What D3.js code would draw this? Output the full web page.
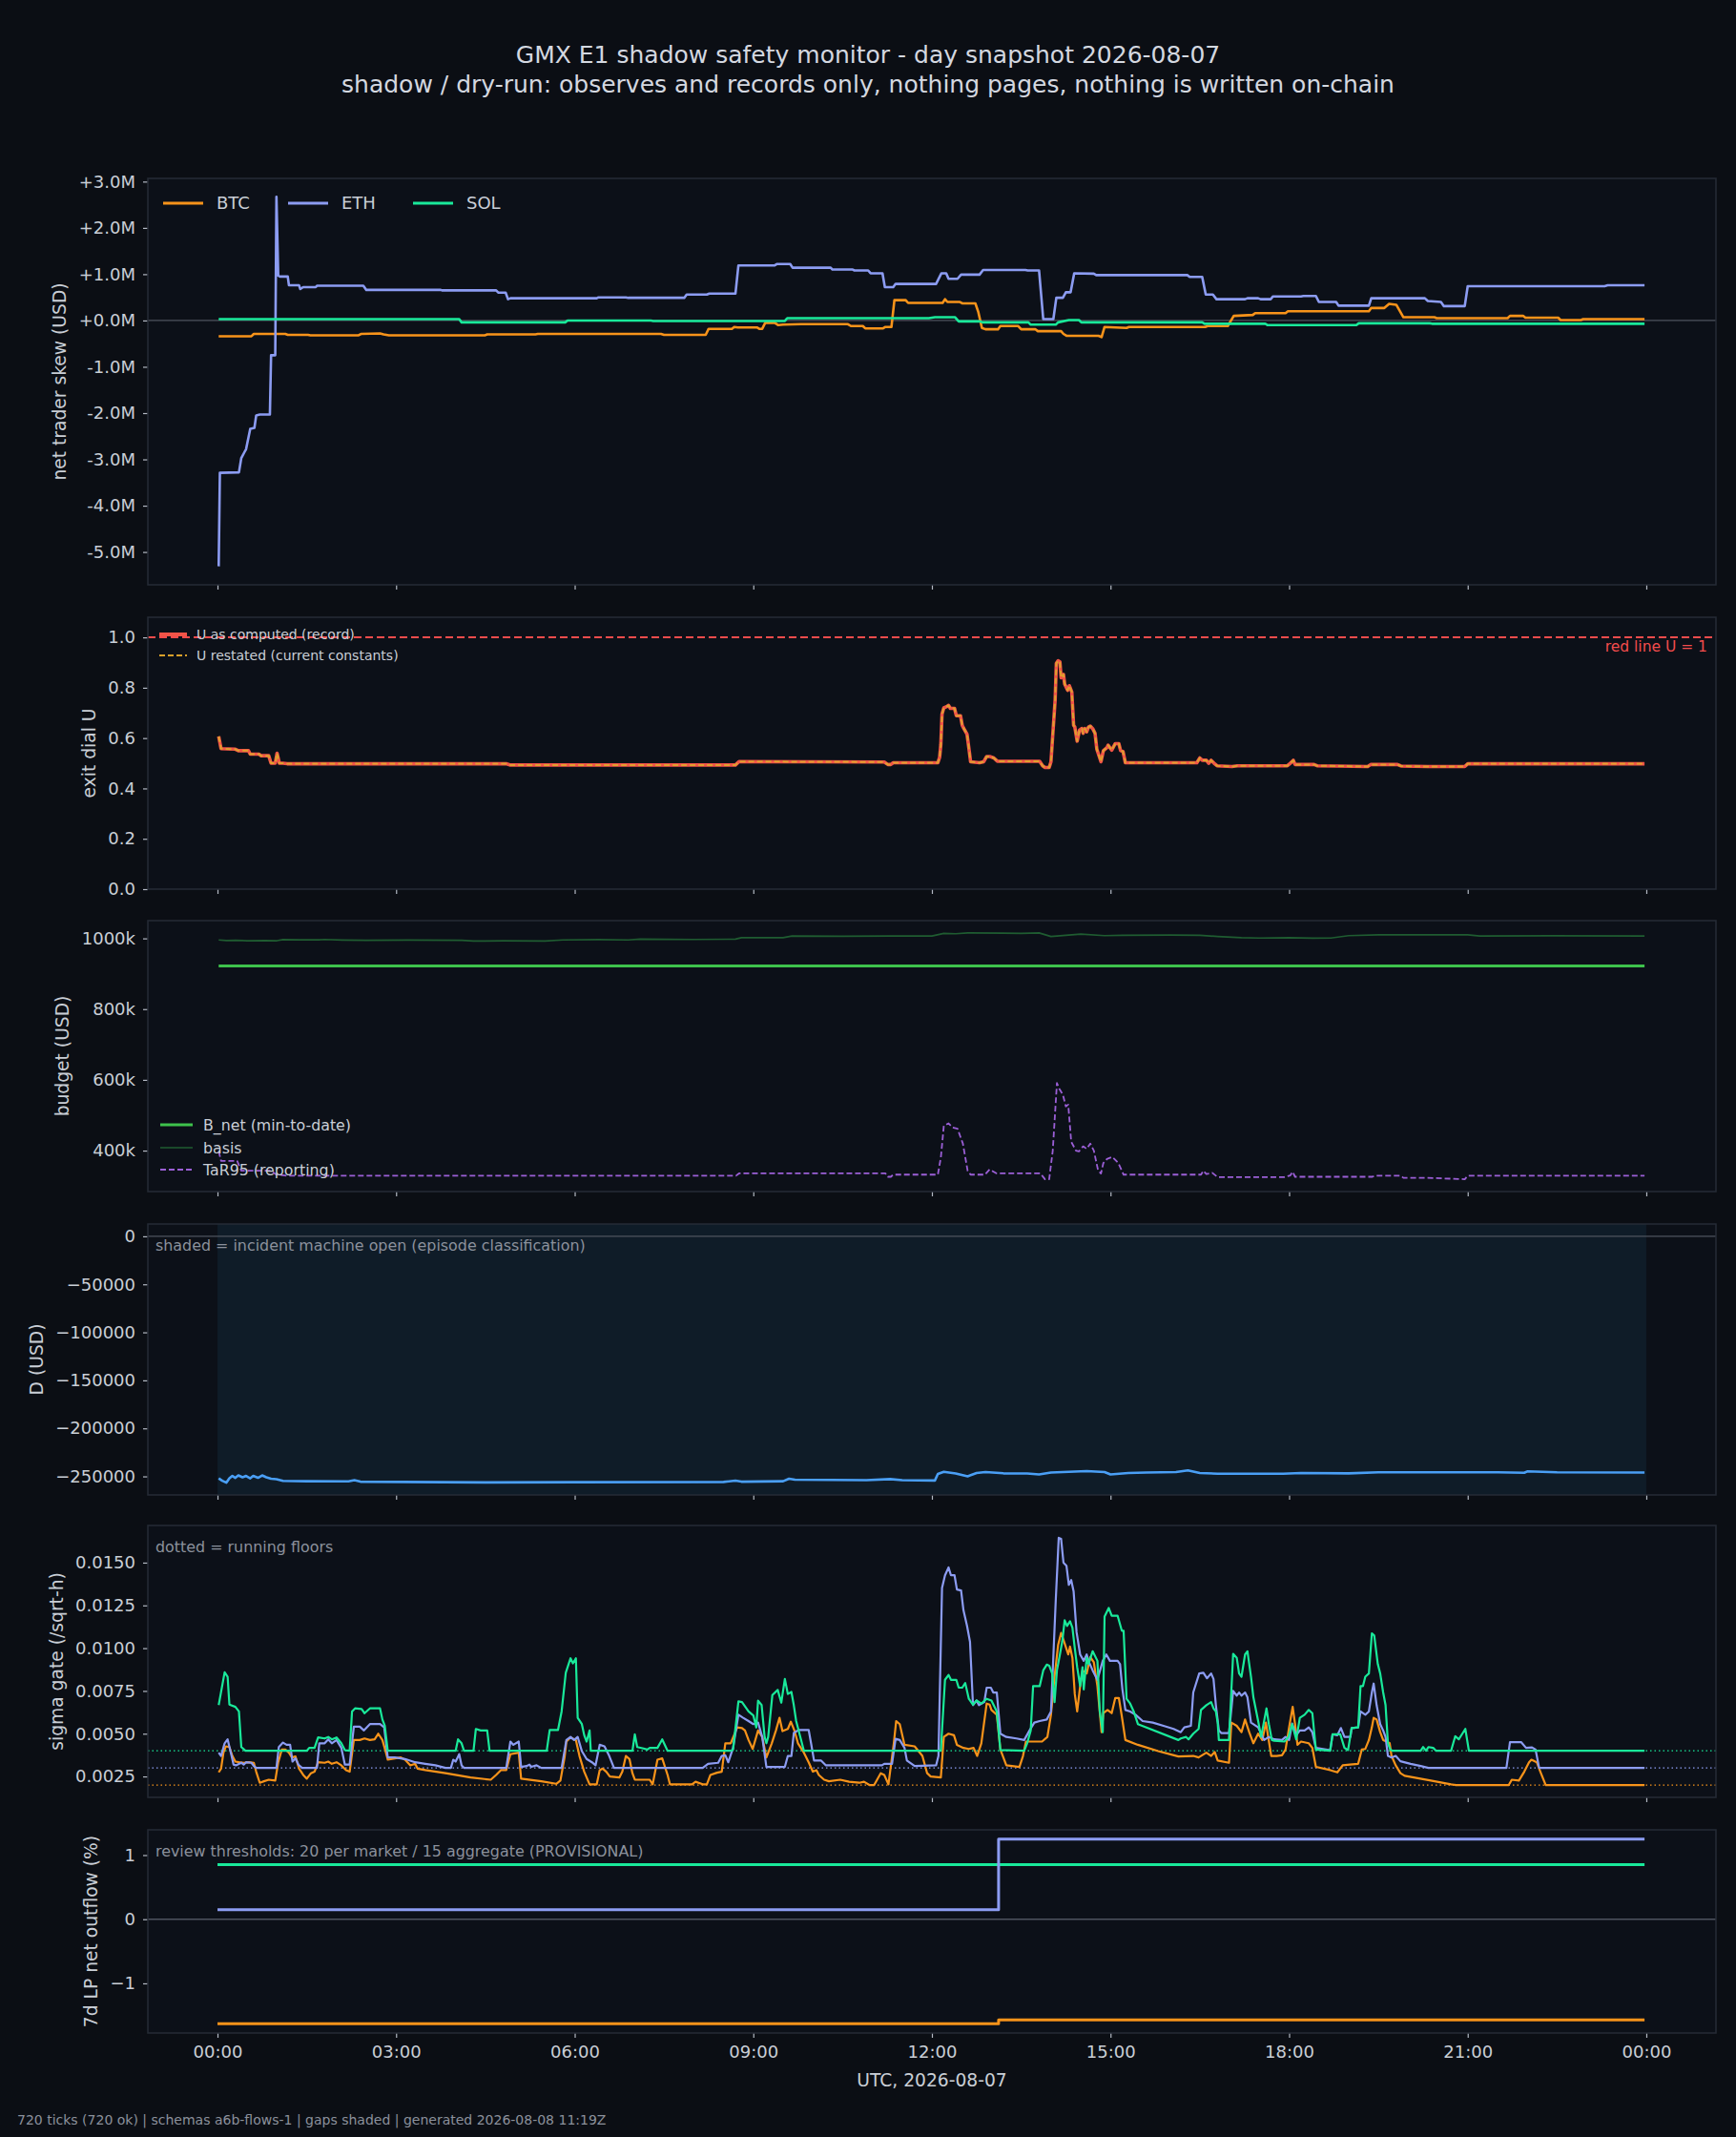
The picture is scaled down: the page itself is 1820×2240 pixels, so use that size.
<!DOCTYPE html>
<html>
<head>
<meta charset="utf-8">
<title>GMX E1 shadow safety monitor</title>
<script src="https://cdn.jsdelivr.net/npm/d3@7"></script>
<style>
    body { margin: 0; background: #0b0e14; }
    svg text { font-family: "DejaVu Sans", sans-serif; }
</style>
</head>
<body>
<script>
// ---- data (hours since 2026-08-07 00:00 UTC, value) ----
var markets = ["BTC", "ETH", "SOL"];
var hourTicks = [0, 3, 6, 9, 12, 15, 18, 21, 24];
var incidentSpan = [0, 24];

// net trader skew, millions of USD
var skewBtc = [[0.02,-0.34],[0.57,-0.34],[0.61,-0.29],[1.14,-0.29],[1.18,-0.31],[1.52,-0.31],[1.56,-0.32],[2.37,-0.32],[2.41,-0.29],[2.73,-0.28],[2.79,-0.3],[2.88,-0.32],[4.49,-0.32],[4.53,-0.3],[5.34,-0.3],[5.38,-0.29],[7.45,-0.29],[7.5,-0.31],[8.2,-0.31],[8.25,-0.18],[8.64,-0.18],[8.68,-0.14],[8.74,-0.15],[9.06,-0.15],[9.1,-0.18],[9.15,-0.18],[9.2,-0.05],[9.36,-0.05],[9.42,-0.1],[9.5,-0.09],[9.8,-0.08],[10.59,-0.08],[10.64,-0.12],[10.84,-0.12],[10.88,-0.17],[11.18,-0.17],[11.22,-0.14],[11.32,-0.14],[11.37,0.44],[11.56,0.44],[11.6,0.38],[12.18,0.38],[12.22,0.46],[12.26,0.4],[12.47,0.4],[12.51,0.37],[12.73,0.37],[12.78,0.18],[12.84,-0.16],[12.9,-0.19],[13.11,-0.19],[13.15,-0.12],[13.45,-0.12],[13.5,-0.19],[13.74,-0.19],[13.78,-0.23],[14.17,-0.23],[14.21,-0.29],[14.26,-0.33],[14.8,-0.33],[14.85,-0.36],[14.9,-0.14],[15.27,-0.16],[15.31,-0.14],[16.59,-0.14],[16.63,-0.12],[16.97,-0.12],[17.07,0.1],[17.39,0.12],[17.43,0.16],[17.94,0.16],[17.98,0.2],[19.34,0.2],[19.38,0.27],[19.6,0.27],[19.68,0.36],[19.8,0.34],[19.92,0.07],[20.44,0.07],[20.48,0.05],[21.67,0.05],[21.71,0.1],[21.93,0.1],[21.97,0.06],[22.52,0.06],[22.56,0.01],[22.9,0.01],[22.94,0.03],[23.97,0.03]];
var skewEth = [[0.02,-5.31],[0.04,-3.29],[0.36,-3.28],[0.4,-2.97],[0.45,-2.85],[0.48,-2.78],[0.55,-2.34],[0.62,-2.32],[0.65,-2.05],[0.71,-2.03],[0.88,-2.03],[0.9,-0.75],[0.97,-0.75],[0.99,2.67],[1.02,0.97],[1.05,0.95],[1.18,0.95],[1.2,0.76],[1.37,0.76],[1.39,0.68],[1.44,0.72],[1.65,0.72],[1.67,0.75],[2.45,0.75],[2.5,0.66],[3.75,0.66],[3.77,0.65],[4.68,0.65],[4.72,0.6],[4.84,0.6],[4.88,0.46],[4.92,0.48],[6.37,0.48],[6.4,0.5],[6.86,0.5],[6.9,0.49],[7.84,0.49],[7.88,0.56],[8.22,0.56],[8.26,0.58],[8.7,0.58],[8.75,1.19],[9.36,1.19],[9.4,1.22],[9.62,1.22],[9.66,1.14],[10.3,1.14],[10.33,1.1],[10.67,1.1],[10.7,1.08],[10.93,1.08],[10.97,1.02],[11.17,1.02],[11.21,0.72],[11.35,0.72],[11.39,0.79],[12.07,0.79],[12.16,1.02],[12.24,1.02],[12.28,0.9],[12.43,0.9],[12.49,0.99],[12.8,0.99],[12.86,1.09],[13.57,1.09],[13.61,1.08],[13.8,1.08],[13.87,0.03],[14.04,0.03],[14.09,0.49],[14.2,0.49],[14.25,0.61],[14.33,0.61],[14.39,1.02],[14.72,1.01],[14.76,0.98],[16.29,0.98],[16.33,0.94],[16.54,0.94],[16.6,0.56],[16.72,0.56],[16.78,0.46],[17.26,0.46],[17.3,0.48],[17.48,0.48],[17.52,0.46],[17.69,0.46],[17.73,0.52],[18.2,0.52],[18.24,0.53],[18.45,0.53],[18.5,0.4],[18.79,0.4],[18.83,0.32],[19.34,0.32],[19.38,0.48],[20.28,0.48],[20.33,0.42],[20.55,0.4],[20.6,0.31],[20.95,0.31],[21.0,0.74],[23.3,0.74],[23.35,0.76],[23.97,0.76]];
var skewSol = [[0.02,0.03],[4.06,0.03],[4.1,-0.04],[5.84,-0.04],[5.88,0.0],[7.28,0.0],[7.32,-0.01],[9.53,-0.01],[9.57,0.05],[11.95,0.05],[12.05,0.07],[12.39,0.07],[12.45,-0.02],[12.81,-0.02],[12.85,-0.04],[13.62,-0.04],[13.66,-0.09],[14.08,-0.09],[14.12,-0.04],[14.3,0.01],[14.47,0.01],[14.51,-0.04],[16.54,-0.04],[16.58,-0.07],[17.6,-0.07],[17.64,-0.1],[19.13,-0.1],[19.17,-0.06],[20.36,-0.06],[20.4,-0.07],[23.97,-0.07]];
var skewTicks = [-5, -4, -3, -2, -1, 0, 1, 2, 3];

// exit dial U
var uRecord = [[0.02,0.607],[0.06,0.558],[0.3,0.556],[0.35,0.55],[0.52,0.55],[0.55,0.536],[0.7,0.536],[0.73,0.53],[0.86,0.53],[0.9,0.5],[0.97,0.5],[1.0,0.54],[1.04,0.5],[1.1,0.5],[1.17,0.498],[4.85,0.498],[4.92,0.493],[8.7,0.493],[8.76,0.507],[11.2,0.505],[11.26,0.495],[11.31,0.495],[11.35,0.502],[12.1,0.502],[12.13,0.524],[12.15,0.575],[12.17,0.695],[12.2,0.72],[12.24,0.724],[12.28,0.73],[12.31,0.718],[12.38,0.718],[12.41,0.689],[12.48,0.689],[12.51,0.65],[12.55,0.632],[12.59,0.615],[12.62,0.562],[12.65,0.506],[12.8,0.502],[12.87,0.506],[12.92,0.527],[12.97,0.527],[13.04,0.521],[13.1,0.508],[13.81,0.508],[13.86,0.49],[13.9,0.483],[13.97,0.483],[14.0,0.506],[14.03,0.612],[14.07,0.752],[14.09,0.897],[14.12,0.907],[14.15,0.903],[14.17,0.84],[14.21,0.853],[14.23,0.815],[14.28,0.79],[14.31,0.808],[14.35,0.783],[14.38,0.651],[14.4,0.644],[14.44,0.588],[14.48,0.632],[14.52,0.638],[14.54,0.619],[14.57,0.638],[14.6,0.625],[14.63,0.644],[14.66,0.648],[14.7,0.638],[14.74,0.619],[14.77,0.556],[14.84,0.506],[14.88,0.55],[14.94,0.562],[14.96,0.572],[15.02,0.552],[15.08,0.578],[15.14,0.578],[15.17,0.55],[15.21,0.547],[15.25,0.502],[16.45,0.502],[16.5,0.521],[16.54,0.512],[16.61,0.512],[16.65,0.5],[16.69,0.512],[16.74,0.5],[16.79,0.49],[17.04,0.487],[17.13,0.49],[17.97,0.49],[18.02,0.5],[18.07,0.512],[18.1,0.495],[18.42,0.495],[18.47,0.49],[18.81,0.489],[19.32,0.487],[19.37,0.495],[19.82,0.495],[19.88,0.489],[20.33,0.487],[20.95,0.487],[21.0,0.498],[23.97,0.498]];
var uRestated = uRecord; // restated values coincide with the record on this day
var uRedLine = 1;
var dialTicks = [0, 0.2, 0.4, 0.6, 0.8, 1.0];

// budget, thousands of USD
var budgetNet = [[0.02,922],[23.97,922]];
var budgetBasis = [[0.02,995.6],[0.15,993.8],[0.3,994.5],[0.5,993.4],[0.8,994],[1.0,993.5],[1.1,996.7],[1.4,995.8],[1.7,996],[1.8,997],[2.1,995.5],[2.5,994.5],[3.2,995],[4.1,994.5],[4.3,992.3],[4.8,993],[5.5,992.3],[5.8,995.6],[6.4,996.5],[6.9,995.6],[7.1,997.8],[8.0,997],[8.7,997.8],[8.8,1002.2],[9.5,1002.2],[9.65,1006.6],[10.5,1005.8],[11.3,1006.8],[12.0,1006.6],[12.2,1014.3],[12.4,1013.2],[12.6,1015.4],[13.2,1015],[13.5,1014],[13.8,1015.4],[14.0,1005.5],[14.2,1008],[14.5,1012],[14.9,1007.7],[15.2,1008.8],[16.0,1009.5],[16.5,1008.8],[16.8,1005.5],[17.2,1002],[17.5,1001],[18.0,1002],[18.4,1000.5],[18.7,1001],[19.0,1007.7],[19.5,1009.9],[20.3,1010.3],[21.0,1009.9],[21.2,1006.6],[22.4,1007.2],[23.97,1006.6]];
var tar95 = [[0.02,398],[0.06,371],[0.33,371],[0.4,343],[0.89,343],[0.99,332],[1.17,329],[8.71,329],[8.76,335.6],[11.22,335.6],[11.26,326],[11.31,326],[11.35,332],[12.1,332],[12.15,380],[12.2,470],[12.28,477],[12.35,465],[12.43,462],[12.52,420],[12.6,343],[12.65,332],[12.89,332],[12.97,347],[13.08,336],[13.82,336],[13.9,319],[13.97,319],[14.03,400],[14.1,591],[14.14,575],[14.2,558],[14.25,525],[14.29,530],[14.34,425],[14.42,400],[14.47,398],[14.54,412],[14.6,405],[14.66,420],[14.72,400],[14.79,345],[14.84,335],[14.88,365],[14.94,376],[15.03,382],[15.13,365],[15.22,332],[16.52,332],[16.56,343],[16.61,334],[16.71,337],[16.8,325],[17.92,325],[18.02,330],[18.06,340],[18.1,326],[19.4,326],[19.45,329],[19.87,329],[19.92,323],[20.33,323],[20.95,319],[21.0,329],[23.97,329]];
var budgetTicks = [400, 600, 800, 1000];

// D, USD
var drawdown = [[0.02,-252000],[0.08,-254500],[0.15,-256500],[0.2,-252000],[0.25,-249500],[0.3,-251500],[0.35,-249000],[0.42,-251000],[0.48,-249500],[0.55,-252000],[0.6,-249500],[0.68,-251500],[0.75,-249000],[0.82,-251000],[0.9,-252500],[0.99,-253000],[1.1,-254700],[1.5,-255000],[2.2,-255200],[2.3,-254000],[2.4,-255500],[3.8,-256000],[4.5,-256300],[6.0,-256000],[8.5,-255800],[8.7,-254500],[8.8,-255500],[9.5,-255000],[9.6,-252400],[9.7,-253500],[10.9,-254000],[11.3,-252800],[11.5,-254000],[12.05,-254300],[12.1,-247500],[12.2,-245300],[12.4,-247000],[12.6,-250000],[12.75,-246500],[12.9,-245500],[13.2,-246800],[13.6,-247000],[13.8,-248000],[14.0,-246000],[14.3,-245300],[14.6,-244500],[14.9,-245500],[15.0,-248000],[15.3,-246500],[15.6,-246000],[16.1,-245500],[16.3,-243700],[16.5,-246500],[16.8,-247200],[17.9,-247200],[18.2,-246500],[19.0,-246800],[19.5,-245700],[21.5,-245700],[21.95,-246200],[22.0,-244800],[22.5,-245800],[23.97,-246000]];
var dTicks = [-250000, -200000, -150000, -100000, -50000, 0];

// sigma gate, per sqrt(hour)
var sigmaBtc = [[0.02,0.00274],[0.06,0.00296],[0.1,0.00389],[0.14,0.00426],[0.2,0.00422],[0.25,0.0037],[0.3,0.00337],[0.36,0.00333],[0.44,0.0033],[0.53,0.00333],[0.61,0.0033],[0.65,0.00278],[0.71,0.00213],[0.78,0.00222],[0.86,0.00231],[0.97,0.00226],[1.02,0.00333],[1.08,0.00407],[1.14,0.00407],[1.2,0.00389],[1.25,0.00361],[1.31,0.00367],[1.37,0.00296],[1.44,0.00259],[1.5,0.00237],[1.57,0.00269],[1.63,0.00278],[1.69,0.00333],[1.8,0.0033],[1.86,0.00337],[1.92,0.00324],[2.0,0.00333],[2.08,0.00315],[2.16,0.00287],[2.22,0.00278],[2.29,0.00463],[2.39,0.00463],[2.47,0.00472],[2.56,0.00463],[2.64,0.00467],[2.7,0.005],[2.77,0.00463],[2.83,0.00389],[2.86,0.00348],[2.98,0.00356],[3.08,0.00361],[3.15,0.00348],[3.24,0.00315],[3.32,0.00324],[3.36,0.00296],[3.49,0.00287],[3.83,0.00269],[4.25,0.00244],[4.59,0.00231],[4.68,0.00259],[4.76,0.00287],[4.85,0.00287],[4.92,0.0038],[5.06,0.00389],[5.1,0.00237],[5.44,0.00222],[5.69,0.00207],[5.76,0.00226],[5.83,0.00361],[5.86,0.00454],[5.93,0.00478],[6.02,0.00463],[6.08,0.0037],[6.16,0.00278],[6.25,0.00204],[6.37,0.00204],[6.42,0.00287],[6.47,0.00296],[6.53,0.00278],[6.59,0.0025],[6.75,0.00244],[6.8,0.00278],[6.86,0.0037],[6.92,0.00352],[6.97,0.00269],[7.01,0.00231],[7.26,0.00231],[7.31,0.00204],[7.39,0.00348],[7.47,0.00356],[7.56,0.00259],[7.6,0.00204],[7.97,0.00204],[8.03,0.00219],[8.15,0.00204],[8.22,0.00204],[8.28,0.00259],[8.39,0.00272],[8.47,0.00278],[8.53,0.00444],[8.62,0.00444],[8.73,0.00537],[8.81,0.00533],[8.86,0.00519],[8.92,0.00463],[8.99,0.00411],[9.08,0.00519],[9.15,0.00481],[9.22,0.00361],[9.31,0.00444],[9.38,0.00519],[9.44,0.00593],[9.49,0.00515],[9.58,0.00528],[9.63,0.0057],[9.69,0.00519],[9.75,0.00444],[9.85,0.00389],[9.93,0.00333],[10.0,0.00278],[10.06,0.00287],[10.1,0.00259],[10.19,0.00231],[10.27,0.00222],[10.46,0.00231],[10.61,0.00219],[10.78,0.00213],[10.86,0.00219],[10.95,0.002],[11.03,0.002],[11.14,0.00269],[11.2,0.00259],[11.27,0.00204],[11.36,0.00444],[11.4,0.00574],[11.46,0.00556],[11.54,0.00435],[11.71,0.00426],[11.84,0.0037],[11.92,0.00269],[11.98,0.0025],[12.15,0.00244],[12.2,0.00481],[12.28,0.005],[12.37,0.00491],[12.42,0.00435],[12.53,0.00417],[12.62,0.00411],[12.7,0.00417],[12.76,0.0037],[12.83,0.00444],[12.92,0.00676],[12.97,0.0067],[13.0,0.00639],[13.09,0.00611],[13.15,0.00407],[13.25,0.00315],[13.47,0.00306],[13.53,0.0037],[13.58,0.00454],[13.85,0.00454],[13.94,0.00481],[14.0,0.00611],[14.06,0.00833],[14.12,0.01019],[14.17,0.01089],[14.23,0.01028],[14.29,0.00963],[14.32,0.01009],[14.36,0.00944],[14.4,0.00732],[14.44,0.0063],[14.49,0.00778],[14.53,0.0087],[14.6,0.00852],[14.66,0.00948],[14.72,0.00917],[14.78,0.00778],[14.85,0.00509],[14.88,0.0062],[14.95,0.00639],[15.02,0.0062],[15.08,0.00709],[15.14,0.00709],[15.19,0.00602],[15.25,0.00463],[15.46,0.00435],[15.8,0.00398],[16.14,0.00367],[16.39,0.0037],[16.48,0.00361],[16.61,0.00389],[16.69,0.0037],[16.75,0.00393],[16.8,0.00343],[16.99,0.0033],[17.03,0.00565],[17.12,0.00546],[17.2,0.00509],[17.26,0.00583],[17.33,0.00509],[17.4,0.00444],[17.48,0.005],[17.55,0.00463],[17.61,0.00565],[17.7,0.0037],[17.79,0.0037],[17.88,0.00374],[17.94,0.00407],[18.0,0.00537],[18.06,0.00657],[18.1,0.00556],[18.14,0.00435],[18.2,0.00454],[18.33,0.00444],[18.39,0.00417],[18.45,0.00306],[18.69,0.00287],[18.81,0.00274],[18.9,0.00315],[19.02,0.00319],[19.16,0.00324],[19.22,0.00407],[19.28,0.00411],[19.34,0.00463],[19.39,0.00537],[19.42,0.00593],[19.47,0.00583],[19.53,0.00509],[19.58,0.00463],[19.64,0.00454],[19.69,0.00444],[19.72,0.0037],[19.79,0.00315],[19.87,0.00269],[19.94,0.00254],[20.38,0.00226],[20.72,0.00204],[20.8,0.002],[21.69,0.002],[21.74,0.00231],[21.86,0.00226],[21.95,0.00278],[22.03,0.00333],[22.07,0.00348],[22.16,0.00333],[22.22,0.00278],[22.31,0.002],[23.97,0.002]];
var sigmaEth = [[0.02,0.00389],[0.06,0.0037],[0.12,0.00444],[0.17,0.00467],[0.23,0.0038],[0.27,0.00319],[0.31,0.00315],[0.4,0.0033],[0.44,0.00319],[0.48,0.00333],[0.57,0.0033],[0.61,0.00311],[0.65,0.003],[0.99,0.003],[1.03,0.00422],[1.1,0.00448],[1.16,0.00435],[1.22,0.00435],[1.26,0.00337],[1.31,0.00356],[1.36,0.00319],[1.42,0.003],[1.67,0.003],[1.71,0.00444],[1.8,0.00444],[1.86,0.00467],[1.92,0.00444],[2.0,0.00463],[2.08,0.00417],[2.14,0.00319],[2.22,0.00319],[2.29,0.00541],[2.39,0.00541],[2.46,0.00519],[2.56,0.00556],[2.73,0.00556],[2.8,0.00537],[2.86,0.00361],[2.98,0.00361],[3.15,0.00352],[3.32,0.00333],[3.49,0.00324],[3.66,0.00315],[3.83,0.003],[3.92,0.003],[3.96,0.00348],[4.0,0.00337],[4.06,0.0038],[4.1,0.00315],[4.14,0.003],[4.85,0.003],[4.92,0.00454],[4.97,0.00435],[5.06,0.00454],[5.1,0.00306],[5.19,0.00311],[5.24,0.00319],[5.27,0.00306],[5.36,0.00315],[5.44,0.003],[5.78,0.003],[5.86,0.00463],[5.93,0.00481],[5.99,0.00463],[6.05,0.00481],[6.12,0.00398],[6.2,0.00352],[6.29,0.00333],[6.35,0.00315],[6.42,0.00435],[6.5,0.00426],[6.58,0.0037],[6.66,0.003],[8.15,0.003],[8.24,0.00324],[8.41,0.0033],[8.47,0.0037],[8.53,0.00374],[8.58,0.00333],[8.66,0.00417],[8.75,0.00611],[8.83,0.00593],[8.92,0.00574],[9.0,0.00556],[9.08,0.00565],[9.15,0.00481],[9.22,0.00306],[9.53,0.00306],[9.58,0.0037],[9.64,0.0037],[9.68,0.00504],[9.76,0.00522],[9.93,0.00522],[9.97,0.00444],[10.02,0.00343],[10.14,0.00343],[10.22,0.00315],[11.16,0.00315],[11.2,0.00324],[11.33,0.00324],[11.39,0.0047],[11.46,0.00463],[11.54,0.00417],[11.58,0.00343],[11.71,0.00311],[12.07,0.00315],[12.11,0.0037],[12.17,0.01352],[12.22,0.01426],[12.28,0.01472],[12.32,0.01426],[12.38,0.01426],[12.42,0.01343],[12.49,0.01337],[12.53,0.01222],[12.59,0.0113],[12.64,0.01037],[12.69,0.00667],[12.75,0.00694],[12.79,0.00667],[12.88,0.00685],[12.92,0.00769],[12.99,0.00769],[13.03,0.00741],[13.09,0.00741],[13.15,0.005],[13.25,0.00481],[13.42,0.00472],[13.55,0.00463],[13.64,0.00519],[13.72,0.00565],[13.81,0.00574],[13.93,0.00583],[14.0,0.0063],[14.03,0.0087],[14.08,0.01278],[14.13,0.01645],[14.17,0.01639],[14.21,0.015],[14.26,0.01482],[14.3,0.0137],[14.34,0.01398],[14.38,0.01333],[14.43,0.01093],[14.49,0.00963],[14.55,0.00926],[14.6,0.00963],[14.63,0.00926],[14.7,0.0087],[14.78,0.00815],[14.87,0.00926],[14.93,0.00963],[14.99,0.00926],[15.12,0.00926],[15.16,0.00907],[15.2,0.00759],[15.25,0.00639],[15.33,0.0063],[15.42,0.00611],[15.54,0.00574],[15.71,0.00565],[15.89,0.00546],[16.06,0.00528],[16.18,0.00509],[16.24,0.00537],[16.35,0.00546],[16.39,0.00741],[16.49,0.00852],[16.56,0.00856],[16.62,0.00824],[16.69,0.00852],[16.73,0.0082],[16.77,0.00667],[16.82,0.00519],[16.86,0.00504],[16.99,0.00504],[17.06,0.0075],[17.12,0.00722],[17.16,0.00741],[17.2,0.00722],[17.26,0.00741],[17.3,0.00713],[17.36,0.00565],[17.48,0.00537],[17.58,0.00463],[17.66,0.00481],[17.75,0.00467],[17.88,0.00463],[17.94,0.00481],[18.0,0.00463],[18.05,0.00559],[18.12,0.00491],[18.18,0.00519],[18.26,0.00519],[18.33,0.00537],[18.39,0.00509],[18.45,0.00417],[18.69,0.00404],[18.73,0.00496],[18.81,0.00491],[18.87,0.00533],[18.93,0.00481],[19.03,0.00481],[19.05,0.00533],[19.16,0.00537],[19.2,0.0063],[19.28,0.00611],[19.34,0.0063],[19.39,0.00741],[19.42,0.00793],[19.47,0.00667],[19.53,0.00556],[19.58,0.00519],[19.62,0.00481],[19.66,0.0037],[19.72,0.00361],[19.79,0.0037],[19.87,0.00339],[20.04,0.00324],[20.21,0.00311],[20.34,0.003],[21.65,0.003],[21.71,0.0045],[21.9,0.0045],[21.98,0.00417],[22.08,0.0042],[22.14,0.00407],[22.2,0.003],[23.97,0.003]];
var sigmaSol = [[0.02,0.00667],[0.12,0.00859],[0.17,0.00833],[0.2,0.0067],[0.3,0.00657],[0.36,0.0063],[0.4,0.00422],[0.47,0.004],[1.5,0.004],[1.54,0.00417],[1.63,0.00417],[1.69,0.00478],[1.8,0.00472],[1.86,0.00481],[1.92,0.00467],[2.0,0.00478],[2.08,0.00444],[2.14,0.00404],[2.22,0.004],[2.26,0.0063],[2.31,0.00648],[2.42,0.00644],[2.47,0.0062],[2.56,0.00648],[2.73,0.00648],[2.77,0.00583],[2.81,0.00546],[2.86,0.004],[4.0,0.004],[4.04,0.00467],[4.1,0.00444],[4.14,0.004],[4.3,0.004],[4.34,0.00528],[4.42,0.00519],[4.53,0.00519],[4.57,0.004],[5.53,0.004],[5.58,0.00522],[5.72,0.00522],[5.78,0.0063],[5.85,0.00856],[5.93,0.00941],[5.97,0.00911],[6.02,0.00941],[6.05,0.00593],[6.12,0.00556],[6.16,0.00491],[6.2,0.00454],[6.25,0.00519],[6.27,0.004],[6.97,0.004],[7.01,0.00496],[7.05,0.00422],[7.14,0.00415],[7.22,0.00407],[7.26,0.00417],[7.39,0.00417],[7.47,0.00467],[7.56,0.004],[8.62,0.004],[8.66,0.00407],[8.75,0.00689],[8.81,0.00685],[8.92,0.0063],[9.0,0.00607],[9.05,0.00537],[9.08,0.00693],[9.14,0.00667],[9.19,0.00481],[9.22,0.00444],[9.25,0.00481],[9.32,0.00726],[9.41,0.00756],[9.47,0.00681],[9.53,0.0082],[9.58,0.00732],[9.64,0.00744],[9.68,0.00667],[9.72,0.00574],[9.85,0.004],[12.15,0.004],[12.22,0.00815],[12.28,0.00843],[12.32,0.00815],[12.41,0.00815],[12.45,0.00769],[12.51,0.00769],[12.56,0.00796],[12.62,0.00704],[12.69,0.0067],[12.75,0.00694],[12.83,0.00676],[12.92,0.00704],[13.0,0.00694],[13.09,0.0063],[13.15,0.00404],[13.55,0.004],[13.6,0.00444],[13.66,0.00519],[13.7,0.00778],[13.81,0.00778],[13.87,0.0087],[13.93,0.00904],[13.97,0.00898],[14.02,0.00852],[14.06,0.00685],[14.1,0.0087],[14.15,0.00963],[14.19,0.01041],[14.23,0.01163],[14.27,0.0113],[14.32,0.01157],[14.36,0.0112],[14.4,0.01],[14.44,0.00889],[14.49,0.00778],[14.53,0.00889],[14.55,0.00759],[14.6,0.00944],[14.63,0.00907],[14.7,0.00982],[14.78,0.00926],[14.82,0.0063],[14.87,0.00509],[14.9,0.01185],[14.97,0.01235],[15.02,0.01189],[15.12,0.01189],[15.19,0.01102],[15.22,0.01102],[15.27,0.00704],[15.33,0.00676],[15.39,0.0063],[15.46,0.00556],[16.14,0.00463],[16.18,0.00472],[16.27,0.00481],[16.31,0.00467],[16.39,0.005],[16.48,0.00528],[16.52,0.00639],[16.61,0.00667],[16.69,0.00685],[16.73,0.00648],[16.77,0.0063],[16.8,0.00565],[16.82,0.00463],[16.99,0.00463],[17.06,0.00967],[17.12,0.00944],[17.16,0.00852],[17.2,0.00833],[17.26,0.00963],[17.3,0.00982],[17.36,0.00833],[17.4,0.00713],[17.48,0.00574],[17.53,0.00481],[17.62,0.00648],[17.66,0.00556],[17.71,0.00463],[17.75,0.00459],[17.92,0.00454],[17.99,0.00481],[18.05,0.00556],[18.12,0.00467],[18.18,0.00593],[18.26,0.00611],[18.33,0.00639],[18.39,0.0062],[18.45,0.00407],[18.69,0.004],[18.73,0.00496],[18.86,0.00496],[18.93,0.00417],[18.99,0.00404],[19.05,0.00533],[19.16,0.00537],[19.2,0.00778],[19.24,0.00778],[19.28,0.00833],[19.34,0.00852],[19.39,0.01087],[19.43,0.01074],[19.49,0.00907],[19.53,0.00852],[19.58,0.00741],[19.62,0.00667],[19.66,0.00444],[19.7,0.00407],[19.74,0.004],[20.21,0.004],[20.25,0.00422],[20.3,0.004],[20.34,0.00422],[20.42,0.00417],[20.47,0.004],[20.72,0.004],[20.79,0.00485],[20.85,0.00467],[20.91,0.005],[20.96,0.00528],[21.02,0.004],[23.97,0.004]];
var sigmaFloors = [0.002, 0.003, 0.004]; // BTC, ETH, SOL
var sigmaTicks = [0.0025, 0.005, 0.0075, 0.01, 0.0125, 0.015];

// 7d LP net outflow, percent (step series)
var lpBtc = [[0,-1.63],[13.12,-1.57],[23.97,-1.57]];
var lpEth = [[0,0.15],[13.12,1.25],[23.97,1.25]];
var lpSol = [[0,0.85],[23.97,0.85]];
var lpTicks = [-1, 0, 1];

function init() {
    var w = 1820;
    var h = 2240;
    var left = 155, right = 1799;
    var dayStart = Date.UTC(2026, 7, 7);
    var colors = { BTC: "#f7931a", ETH: "#8c9cf2", SOL: "#19e99a" };
    var tickColor = "#c9ced6";
    var noteColor = "#8b919c";

    function at(hr) { return new Date(dayStart + hr * 3600000); }
    function padded(vals) {
        var ext = d3.extent(vals);
        var p = (ext[1] - ext[0]) * 0.05;
        return [ext[0] - p, ext[1] + p];
    }
    function values(list) { return [].concat.apply([], list.map(function (s) { return s.map(function (d) { return d[1]; }); })); }

    var x = d3.scaleUtc().domain([at(-1.17), at(25.17)]).range([left, right]);

    var svg = d3.select("body").append("svg")
        .attr("width", w)
        .attr("height", h)
        .style("background", "#0b0e14");
    var defs = svg.append("defs");

    // title
    svg.append("text").attr("x", 910).attr("y", 66).attr("text-anchor", "middle")
        .attr("font-size", 25).attr("fill", "#d4d8e0")
        .text("GMX E1 shadow safety monitor - day snapshot 2026-08-07");
    svg.append("text").attr("x", 910).attr("y", 97).attr("text-anchor", "middle")
        .attr("font-size", 25).attr("fill", "#d4d8e0")
        .text("shadow / dry-run: observes and records only, nothing pages, nothing is written on-chain");

    // builds one subplot: background, clip, axes, y label
    function panel(id, top, bottom, domain, ticks, fmt, label, showX) {
        var g = svg.append("g");
        var y = d3.scaleLinear().domain(domain).range([bottom, top]);
        g.append("rect").attr("x", left).attr("y", top).attr("width", right - left).attr("height", bottom - top)
            .attr("fill", "#0c1018");
        defs.append("clipPath").attr("id", "clip-" + id).append("rect")
            .attr("x", left).attr("y", top).attr("width", right - left).attr("height", bottom - top);
        var plot = g.append("g").attr("clip-path", "url(#clip-" + id + ")");

        var xa = g.append("g").attr("transform", "translate(0," + bottom + ")")
            .call(d3.axisBottom(x).tickValues(hourTicks.map(at)).tickSize(5).tickPadding(8)
                .tickFormat(showX ? d3.utcFormat("%H:%M") : ""));
        var ya = g.append("g").attr("transform", "translate(" + left + ",0)")
            .call(d3.axisLeft(y).tickValues(ticks).tickSize(5).tickPadding(8).tickFormat(fmt));
        [xa, ya].forEach(function (a) {
            a.select(".domain").remove();
            a.selectAll(".tick line").attr("stroke", "#b4bac4").attr("stroke-width", 1.2);
            a.selectAll(".tick text").attr("fill", tickColor).attr("font-size", 18)
                .attr("font-family", "DejaVu Sans");
        });

        g.append("rect").attr("x", left).attr("y", top).attr("width", right - left).attr("height", bottom - top)
            .attr("fill", "none").attr("stroke", "#262b36").attr("stroke-width", 1.5);

        // y label placed left of the widest tick label
        var minX = d3.min(ya.selectAll(".tick text").nodes(), function (n) { return n.getBBox().x; }) + left;
        var lx = minX - 9 - 18.7 * 0.236;
        var cy = (top + bottom) / 2;
        svg.append("text").attr("transform", "translate(" + lx + "," + cy + ") rotate(-90)")
            .attr("text-anchor", "middle").attr("font-size", 18.7).attr("fill", tickColor).text(label);

        return { g: g, plot: plot, y: y, top: top, bottom: bottom };
    }

    function drawLine(p, data, color, width, dash, curve) {
        var line = d3.line()
            .x(function (d) { return x(at(d[0])); })
            .y(function (d) { return p.y(d[1]); })
            .curve(curve || d3.curveLinear);
        p.plot.append("path").datum(data)
            .attr("d", line)
            .attr("fill", "none")
            .attr("stroke", color)
            .attr("stroke-width", width)
            .attr("stroke-linejoin", "round")
            .attr("stroke-dasharray", dash || null);
    }
    function hline(p, v, color, width, dash) {
        p.plot.append("line").attr("x1", left).attr("x2", right)
            .attr("y1", p.y(v)).attr("y2", p.y(v))
            .attr("stroke", color).attr("stroke-width", width).attr("stroke-dasharray", dash || null);
    }
    function legend(p, items, rows, size, len, textGap) {
        items.forEach(function (it, i) {
            var yy = rows[i].y, xx = rows[i].x;
            p.g.append("line").attr("x1", xx).attr("x2", xx + len).attr("y1", yy).attr("y2", yy)
                .attr("stroke", it.color).attr("stroke-width", it.width).attr("stroke-dasharray", it.dash || null);
            p.g.append("text").attr("x", xx + len + textGap).attr("y", yy).attr("dy", "0.36em")
                .attr("font-size", size).attr("fill", tickColor).text(it.label);
        });
    }
    function note(p, txt) {
        p.g.append("text").attr("x", left + 8).attr("y", p.top + 28)
            .attr("font-size", 15.9).attr("fill", noteColor).text(txt);
    }

    // ---- panel 1: net trader skew ----
    var skewFmt = function (v) { return (v >= 0 ? "+" : "-") + Math.abs(v).toFixed(1) + "M"; };
    var p1 = panel("skew", 187, 613, padded(values([skewBtc, skewEth, skewSol, [[0, 0]]])),
        skewTicks, skewFmt, "net trader skew (USD)", false);
    hline(p1, 0, "#4e535e", 1.3);
    drawLine(p1, skewBtc, colors.BTC, 2.6);
    drawLine(p1, skewEth, colors.ETH, 2.6);
    drawLine(p1, skewSol, colors.SOL, 2.6);
    legend(p1, markets.map(function (m) { return { label: m, color: colors[m], width: 3 }; }),
        [{ x: 171, y: 213 }, { x: 302, y: 213 }, { x: 433, y: 213 }], 18, 42, 14);

    // ---- panel 2: exit dial U ----
    var p2 = panel("dial", 647, 932, [0, 1.08], dialTicks, d3.format(".1f"), "exit dial U", false);
    hline(p2, uRedLine, "#f24c4c", 2, "8,4");
    drawLine(p2, uRecord, "#f25447", 3.6);
    drawLine(p2, uRestated, "#e0a02e", 2, "6,3");
    p2.g.append("text").attr("x", 1790).attr("y", p2.y(uRedLine) + 14.5).attr("text-anchor", "end")
        .attr("font-size", 15.5).attr("fill", "#f24c4c").text("red line U = 1");
    legend(p2, [
        { label: "U as computed (record)", color: "#f25447", width: 4 },
        { label: "U restated (current constants)", color: "#d9a02a", width: 2, dash: "6,3" }
    ], [{ x: 167, y: 665 }, { x: 167, y: 687 }], 14, 29, 10);

    // ---- panel 3: budget ----
    var p3 = panel("budget", 965, 1249, padded(values([budgetNet, budgetBasis, tar95])),
        budgetTicks, function (v) { return v + "k"; }, "budget (USD)", false);
    drawLine(p3, budgetBasis, "#1f5c31", 1.7);
    drawLine(p3, budgetNet, "#3ec24c", 3);
    drawLine(p3, tar95, "#9b5fd6", 1.8, "6,3");
    legend(p3, [
        { label: "B_net (min-to-date)", color: "#3ec24c", width: 3 },
        { label: "basis", color: "#1f5c31", width: 1.7 },
        { label: "TaR95 (reporting)", color: "#9b5fd6", width: 1.8, dash: "6,3" }
    ], [{ x: 168, y: 1179 }, { x: 168, y: 1203 }, { x: 168, y: 1226 }], 15.8, 34, 11);

    // ---- panel 4: D ----
    var p4 = panel("dd", 1283, 1567, padded(values([drawdown, [[0, 0]]])),
        dTicks, d3.format("d"), "D (USD)", false);
    p4.plot.append("rect")
        .attr("x", x(at(incidentSpan[0]))).attr("width", x(at(incidentSpan[1])) - x(at(incidentSpan[0])))
        .attr("y", p4.top).attr("height", p4.bottom - p4.top)
        .attr("fill", "#10202e").attr("opacity", 0.75);
    hline(p4, 0, "#4e535e", 1.3);
    drawLine(p4, drawdown, "#4a9ff5", 2.6);
    note(p4, "shaded = incident machine open (episode classification)");

    // ---- panel 5: sigma gate ----
    var p5 = panel("sigma", 1599, 1884, padded(values([sigmaBtc, sigmaEth, sigmaSol])),
        sigmaTicks, d3.format(".4f"), "sigma gate (/sqrt-h)", false);
    markets.forEach(function (m, i) {
        hline(p5, sigmaFloors[i], colors[m], 1.2, "1.5,3");
    });
    drawLine(p5, sigmaBtc, colors.BTC, 2.2);
    drawLine(p5, sigmaEth, colors.ETH, 2.2);
    drawLine(p5, sigmaSol, colors.SOL, 2.2);
    note(p5, "dotted = running floors");

    // ---- panel 6: LP net outflow ----
    var p6 = panel("lp", 1918, 2131, padded(values([lpBtc, lpEth, lpSol])),
        lpTicks, d3.format("d"), "7d LP net outflow (%)", true);
    hline(p6, 0, "#4e535e", 1.3);
    drawLine(p6, lpSol, colors.SOL, 3, null, d3.curveStepAfter);
    drawLine(p6, lpEth, colors.ETH, 3, null, d3.curveStepAfter);
    drawLine(p6, lpBtc, colors.BTC, 3, null, d3.curveStepAfter);
    note(p6, "review thresholds: 20 per market / 15 aggregate (PROVISIONAL)");

    // x label and footer
    svg.append("text").attr("x", (left + right) / 2).attr("y", 2187).attr("text-anchor", "middle")
        .attr("font-size", 18.7).attr("fill", tickColor).text("UTC, 2026-08-07");
    svg.append("text").attr("x", 18).attr("y", 2227)
        .attr("font-size", 14).attr("fill", noteColor)
        .text("720 ticks (720 ok) | schemas a6b-flows-1 | gaps shaded | generated 2026-08-08 11:19Z");
}
window.onload = init;
</script>
</body>
</html>
